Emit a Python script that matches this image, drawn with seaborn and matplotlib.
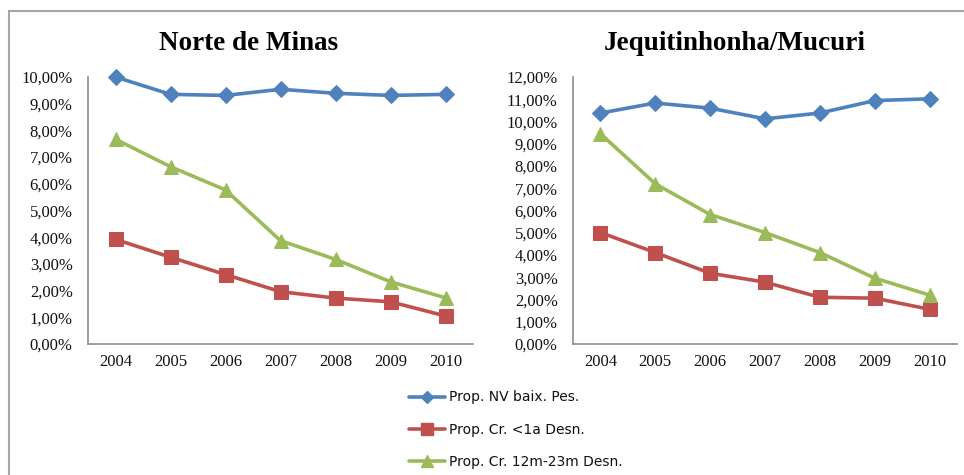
import matplotlib
matplotlib.use("Agg")
import matplotlib.pyplot as plt
from matplotlib.lines import Line2D
from matplotlib.ticker import FuncFormatter, MultipleLocator
import pandas as pd
import seaborn as sns

sns.set_style("white")
plt.rcParams["font.family"] = ["Liberation Serif", "DejaVu Serif"]
plt.rcParams["text.color"] = "black"

# dados (em %)
anos = [2004, 2005, 2006, 2007, 2008, 2009, 2010]
series = ["Prop. NV baix. Pes.", "Prop. Cr. <1a Desn.", "Prop. Cr. 12m-23m Desn."]

norte_nv = [10.00, 9.35, 9.31, 9.54, 9.39, 9.31, 9.35]
norte_cr1 = [3.92, 3.25, 2.60, 1.96, 1.72, 1.58, 1.05]
norte_cr12 = [7.67, 6.64, 5.77, 3.87, 3.17, 2.33, 1.73]

jequi_nv = [10.38, 10.83, 10.60, 10.12, 10.38, 10.94, 11.02]
jequi_cr1 = [5.01, 4.11, 3.18, 2.78, 2.10, 2.06, 1.56]
jequi_cr12 = [9.45, 7.20, 5.82, 5.01, 4.11, 2.96, 2.20]

cores = ["#4F81BD", "#C0504D", "#9BBB59"]
marcadores = ["D", "s", "^"]
tam_marc = [8, 10, 10]


def montar_df(nv, cr1, cr12):
    linhas = []
    for nome, vals in zip(series, [nv, cr1, cr12]):
        for a, v in zip(anos, vals):
            linhas.append({"ano": a, "valor": v, "serie": nome})
    return pd.DataFrame(linhas)


def fmt_pct(v, pos):
    return f"{v:.2f}%".replace(".", ",")


def desenhar(ax, df, ymax):
    for nome, cor, mk, ms in zip(series, cores, marcadores, tam_marc):
        sub = df[df["serie"] == nome]
        sns.lineplot(data=sub, x="ano", y="valor", ax=ax, color=cor,
                     marker=mk, markersize=ms, markeredgecolor=cor,
                     linewidth=2.6, legend=False)
    ax.set_xlim(2003.5, 2010.5)
    ax.set_ylim(0, ymax)
    ax.set_xticks(anos)
    ax.yaxis.set_major_locator(MultipleLocator(1))
    ax.yaxis.set_major_formatter(FuncFormatter(fmt_pct))
    ax.set_xlabel("")
    ax.set_ylabel("")
    for lado in ["top", "right"]:
        ax.spines[lado].set_visible(False)
    for lado in ["left", "bottom"]:
        ax.spines[lado].set_color("#8c8c8c")
        ax.spines[lado].set_linewidth(1.2)
    ax.tick_params(axis="y", length=0, pad=11, labelsize=12, labelcolor="#111111")
    ax.tick_params(axis="x", length=0, pad=7, labelsize=12, labelcolor="#111111")
    for ln in ax.lines:
        ln.set_clip_on(False)


fig = plt.figure(figsize=(9.64, 4.75), dpi=100)

ax1 = fig.add_axes([88 / 964, 1 - 344 / 475, 385 / 964, 267 / 475])
ax2 = fig.add_axes([573 / 964, 1 - 344 / 475, 384 / 964, 267 / 475])

desenhar(ax1, montar_df(norte_nv, norte_cr1, norte_cr12), 10)
desenhar(ax2, montar_df(jequi_nv, jequi_cr1, jequi_cr12), 12)

fig.text(249 / 964, 1 - 43 / 475, "Norte de Minas", ha="center", va="center",
         fontsize=19.5, fontweight="bold", color="black")
fig.text(735 / 964, 1 - 43 / 475, "Jequitinhonha/Mucuri", ha="center", va="center",
         fontsize=19.5, fontweight="bold", color="black")

handles = [Line2D([0], [0], color=c, marker=m, markersize=s * 0.8, lw=2.6,
                  markeredgecolor=c) for c, m, s in zip(cores, marcadores, tam_marc)]
leg = fig.legend(handles, series, loc="upper left", bbox_to_anchor=(396 / 964, 1 - 378 / 475),
                 frameon=False, handlelength=2.6, handletextpad=0.3, labelspacing=1.3,
                 prop={"family": "DejaVu Sans", "size": 10})
for t in leg.get_texts():
    t.set_color("#111111")

# moldura externa
fig.add_artist(Line2D([9 / 964, 1], [1 - 11 / 475, 1 - 11 / 475], color="#a6a6a6",
                      lw=1.5, transform=fig.transFigure))
fig.add_artist(Line2D([9 / 964, 9 / 964], [0, 1 - 11 / 475], color="#a6a6a6",
                      lw=1.5, transform=fig.transFigure))

fig.savefig("out.png", dpi=100)
